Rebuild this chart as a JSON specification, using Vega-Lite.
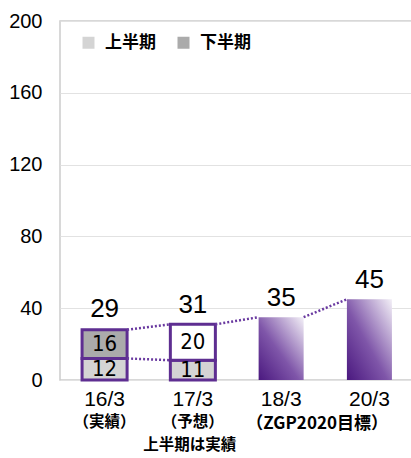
{
  "$schema": "https://vega.github.io/schema/vega-lite/v6.json",
  "width": 354,
  "height": 359,
  "autosize": {"type": "none"},
  "padding": {"left": 60, "top": 21, "right": 0, "bottom": 78},
  "background": "white",
  "datasets": {
    "bars": [
      {"年度": "16/3", "区分": "上半期", "値": 12},
      {"年度": "16/3", "区分": "下半期", "値": 16},
      {"年度": "17/3", "区分": "上半期", "値": 11},
      {"年度": "17/3", "区分": "下半期（予想）", "値": 20},
      {"年度": "18/3", "区分": "通期", "値": 35},
      {"年度": "20/3", "区分": "通期", "値": 45}
    ],
    "totals": [
      {"年度": "16/3", "合計": 29},
      {"年度": "17/3", "合計": 31},
      {"年度": "18/3", "合計": 35},
      {"年度": "20/3", "合計": 45}
    ],
    "links": [
      {"起点": "16/3", "終点": "17/3", "始値": 28, "終値": 31},
      {"起点": "16/3", "終点": "17/3", "始値": 12, "終値": 11},
      {"起点": "17/3", "終点": "18/3", "始値": 31, "終値": 35},
      {"起点": "18/3", "終点": "20/3", "始値": 35, "終値": 45}
    ],
    "notes": [
      {"年度": "16/3", "注記": "（実績）"},
      {"年度": "17/3", "注記": "（予想）"},
      {"年度": "18/3", "注記": "（ZGP2020目標）"},
      {"年度": "17/3", "注記": "上半期は実績"}
    ]
  },
  "config": {
    "view": {"stroke": "#cccccc", "strokeWidth": 1.5},
    "font": "Liberation Sans",
    "axis": {"labelColor": "#000000", "domain": false, "ticks": false, "title": null}
  },
  "layer": [
    {
      "data": {"name": "bars"},
      "transform": [{"filter": "datum['区分'] != '通期'"}],
      "mark": {"type": "bar", "stroke": "#5e2e91", "strokeWidth": 3},
      "encoding": {
        "x": {
          "field": "年度", "type": "nominal", "title": null,
          "scale": {"domain": ["16/3", "17/3", "18/3", "20/3"], "paddingInner": 0.49, "paddingOuter": 0.25},
          "axis": {"labelAngle": 0, "labelFontSize": 21, "labelPadding": 8, "grid": false}
        },
        "y": {
          "field": "値", "type": "quantitative", "aggregate": "sum", "stack": "zero", "title": null,
          "scale": {"domain": [0, 200], "nice": false},
          "axis": {"values": [0, 40, 80, 120, 160, 200], "labelFontSize": 20, "labelPadding": 18, "gridColor": "#e2e2e2", "gridWidth": 1.2}
        },
        "color": {
          "field": "区分", "type": "nominal",
          "scale": {"domain": ["上半期", "下半期", "下半期（予想）"], "range": ["#d4d4d4", "#ababab", "#ffffff"]},
          "legend": {
            "orient": "none", "legendX": 20, "legendY": 13, "direction": "horizontal", "title": null,
            "values": ["上半期", "下半期"], "symbolType": "square", "symbolSize": 144,
            "symbolStrokeWidth": 0, "labelFontSize": 17, "labelFontWeight": "bold",
            "labelFont": "Noto Sans CJK JP", "labelColor": "#000000", "columnPadding": 19, "labelOffset": 8
          }
        },
        "order": {"field": "区分", "sort": "ascending"}
      }
    },
    {
      "data": {"name": "bars"},
      "transform": [{"filter": "datum['区分'] == '通期'"}],
      "mark": {
        "type": "bar",
        "fill": {
          "gradient": "linear", "x1": 0, "y1": 1, "x2": 1, "y2": 0,
          "stops": [
            {"offset": 0, "color": "#4a187f"},
            {"offset": 0.45, "color": "#7f56a9"},
            {"offset": 1, "color": "#f3f0f7"}
          ]
        }
      },
      "encoding": {
        "x": {"field": "年度", "type": "nominal", "title": null},
        "y": {"field": "値", "type": "quantitative", "title": null}
      }
    },
    {
      "data": {"name": "links"},
      "mark": {"type": "rule", "color": "#6a3aa0", "strokeWidth": 2.5, "strokeDash": [2, 2]},
      "encoding": {
        "x": {"field": "起点", "type": "nominal", "bandPosition": 1, "title": null},
        "x2": {"field": "終点", "bandPosition": 0},
        "y": {"field": "始値", "type": "quantitative", "title": null},
        "y2": {"field": "終値"}
      }
    },
    {
      "data": {"name": "bars"},
      "transform": [
        {"filter": "datum['区分'] != '通期'"},
        {"stack": "値", "groupby": ["年度"], "sort": [{"field": "区分", "order": "ascending"}], "as": ["下端", "上端"]}
      ],
      "mark": {
        "type": "text", "fontSize": 22, "font": "DejaVu Sans Condensed", "baseline": "middle",
        "dy": {"expr": "(scale('y', datum['下端']) - scale('y', datum['上端'])) / 2"}
      },
      "encoding": {
        "x": {"field": "年度", "type": "nominal", "title": null},
        "y": {"field": "上端", "type": "quantitative", "title": null},
        "text": {"field": "値", "type": "quantitative"}
      }
    },
    {
      "data": {"name": "totals"},
      "mark": {"type": "text", "fontSize": 26, "baseline": "bottom", "dy": -6},
      "encoding": {
        "x": {"field": "年度", "type": "nominal", "title": null},
        "y": {"field": "合計", "type": "quantitative", "title": null},
        "text": {"field": "合計", "type": "quantitative"}
      }
    },
    {
      "data": {"name": "notes"},
      "transform": [{"filter": "datum['年度'] != '18/3' && datum['注記'] != '上半期は実績'"}],
      "mark": {"type": "text", "fontSize": 15.5, "fontWeight": "bold", "font": "Noto Sans CJK JP", "baseline": "middle"},
      "encoding": {
        "x": {"field": "年度", "type": "nominal", "title": null},
        "y": {"datum": -23.5},
        "text": {"field": "注記"}
      }
    },
    {
      "data": {"name": "notes"},
      "transform": [{"filter": "datum['年度'] == '18/3'"}],
      "mark": {"type": "text", "fontSize": 17, "fontWeight": "bold", "font": "Noto Sans CJK JP", "baseline": "middle", "dx": 36},
      "encoding": {
        "x": {"field": "年度", "type": "nominal", "title": null},
        "y": {"datum": -24.5},
        "text": {"field": "注記"}
      }
    },
    {
      "data": {"name": "notes"},
      "transform": [{"filter": "datum['注記'] == '上半期は実績'"}],
      "mark": {"type": "text", "fontSize": 15.5, "fontWeight": "bold", "font": "Noto Sans CJK JP", "baseline": "middle", "dx": -3},
      "encoding": {
        "x": {"field": "年度", "type": "nominal", "title": null},
        "y": {"datum": -36},
        "text": {"field": "注記"}
      }
    }
  ]
}
